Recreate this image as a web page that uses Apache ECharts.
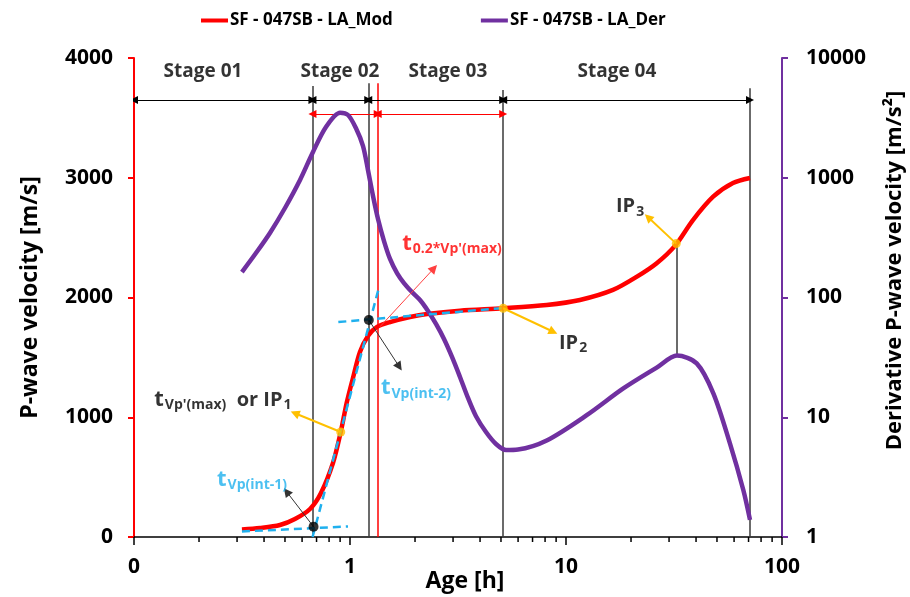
<!DOCTYPE html>
<html>
<head>
<meta charset="utf-8">
<script src="https://cdn.jsdelivr.net/npm/echarts@6/dist/echarts.min.js"></script>
<style>
html, body { margin: 0; padding: 0; background: #fff; }
#chart { width: 910px; height: 597px; }
</style>
</head>
<body>
<div id="chart"></div>
<script>
// Modelled P-wave velocity (left axis) against age in hours
const modAge = [0.316, 0.383, 0.474, 0.556, 0.653, 0.734, 0.834, 0.906, 0.965, 1.032, 1.112, 1.211, 1.334, 1.532, 1.896, 2.273, 3.23, 5.12, 8.14, 11.6, 16.5, 21.3, 26.3, 32.0, 38.7, 48.0, 59.3, 71.1];
const modVel = [63, 75, 100, 150, 234, 367, 618, 877, 1119, 1328, 1545, 1679, 1754, 1795, 1837, 1862, 1890, 1910, 1937, 1979, 2063, 2174, 2286, 2433, 2647, 2842, 2956, 2998];

// Derivative of the P-wave velocity (right axis, logarithmic)
const derAge = [0.316, 0.367, 0.426, 0.5, 0.587, 0.674, 0.774, 0.899, 0.979, 1.066, 1.149, 1.211, 1.278, 1.348, 1.437, 1.532, 1.651, 1.778, 1.936, 2.109, 2.297, 2.501, 2.724, 2.966, 3.23, 3.518, 3.831, 4.262, 4.741, 5.275, 5.995, 8.14, 12.47, 18.42, 26.3, 32.65, 40.28, 48.1, 57.4, 66.2, 71.1];
const derVal = [163, 235, 346, 559, 958, 1641, 2653, 3494, 3342, 2591, 1841, 1161, 704, 452, 296, 210, 160, 132, 111, 95.3, 77.2, 60.1, 45.0, 31.9, 21.7, 14.5, 10.2, 7.53, 5.98, 5.33, 5.38, 6.4, 10.4, 17.4, 26.0, 32.8, 28.2, 15.85, 6.06, 2.47, 1.39];

// Axis tick labels
const xTickLabels = ['0', '1', '10', '100'];
const xMinorTicks = [0.2, 0.3, 0.4, 0.5, 0.6, 0.7, 0.8, 0.9, 2, 3, 4, 5, 6, 7, 8, 9, 20, 30, 40, 50, 60, 70, 80, 90];
const yLeftTickLabels = ['0', '1000', '2000', '3000', '4000'];
const yRightTickLabels = ['1', '10', '100', '1000', '10000'];

// Stage boundaries [h] and the top of each boundary line [m/s]
const stageBounds = [0.1, 0.670, 1.215, 5.12, 71.1];
const boundTop = [3766, 3789, 3733, 3747];
const stageNames = ['Stage 01', 'Stage 02', 'Stage 03', 'Stage 04'];
const stageLabelAge = [0.2087, 0.899, 2.84, 17.2];
const stageLabelVel = 3883;
const stageArrowVel = 3649;

// t(0.2*Vp'(max)) marker
const t02Age = 1.343;
const t02Top = 3789;
const t02ArrowVel = 3532;

// Inflection points IP1..IP3 and where their pointers end
const ipAge = [0.906, 5.12, 32.4];
const ipVel = [877, 1910, 2450];
const ipPointerEnd = [[0.556, 1033], [8.73, 1714], [24.0, 2670]];
const ip3DropVel = 1520;

// Tangent intersections t_Vp(int-1), t_Vp(int-2) and their pointers
const intAge = [0.678, 1.222];
const intVel = [86, 1812];
const intPointerEnd = [[0.509, 378], [1.691, 1422]];
const t02Pointer = [[1.377, 1756], [2.448, 2244]];

// Tangent lines (dashed)
const tangentLow = [[0.316, 46], [0.979, 88]];
const tangentSteep = [[0.671, 0], [1.352, 2063]];
const tangentHigh = [[0.883, 1795], [5.11, 1912]];

// Annotation text anchors
const labelIP1 = [0.258, 1144];
const labelInt1 = [0.352, 476];
const labelInt2 = [2.02, 1244];
const labelT02 = [2.965, 2447];
const labelIP2 = [10.78, 1620];
const labelIP3 = [19.8, 2758];

const RED = '#FF0000', PURPLE = '#7030A0', BLUE = '#1FB0EE', YELLOW = '#FFC000';
const FONT = 'Open Sans';

const zip = (a, b) => a.map((v, i) => [v, b[i]]);

function linesSeries(coordsList, color, width, symbols, extra) {
  return Object.assign({
    type: 'lines',
    coordinateSystem: 'cartesian2d',
    xAxisIndex: 0,
    yAxisIndex: 0,
    silent: true,
    symbol: symbols || ['none', 'none'],
    symbolSize: 9,
    lineStyle: { color: color, width: width, opacity: 1, curveness: 0 },
    data: coordsList.map(c => ({ coords: c }))
  }, extra || {});
}

function textSeries(pos, formatter, color, rich) {
  return {
    type: 'scatter',
    xAxisIndex: 0,
    yAxisIndex: 0,
    silent: true,
    symbolSize: 1,
    itemStyle: { color: 'rgba(0,0,0,0)' },
    z: 10,
    data: [pos],
    label: {
      show: true,
      position: 'inside',
      formatter: formatter,
      color: color,
      fontFamily: FONT,
      fontWeight: 'bold',
      rich: rich
    }
  };
}

function subRich(color) {
  return {
    t: { fontSize: 22, fontWeight: 'bold', color: color, fontFamily: FONT },
    n: { fontSize: 20, fontWeight: 'bold', color: color, fontFamily: FONT },
    s: { fontSize: 14, fontWeight: 'bold', color: color, fontFamily: FONT, padding: [11, 0, 0, 1] }
  };
}

// Boundary lines, stage arrows and pointers
const boundaryLines = stageBounds.slice(1).map((x, i) => [[x, 0], [x, boundTop[i]]]);
boundaryLines.push([[ipAge[2], ipVel[2]], [ipAge[2], ip3DropVel]]);
const stageArrows = stageBounds.slice(0, -1).map((x, i) => [[x, stageArrowVel], [stageBounds[i + 1], stageArrowVel]]);
const t02Arrows = [[[stageBounds[1], t02ArrowVel], [t02Age, t02ArrowVel]], [[t02Age, t02ArrowVel], [stageBounds[3], t02ArrowVel]]];
const ipPointers = ipAge.map((x, i) => [[x, ipVel[i]], ipPointerEnd[i]]);
const intPointers = intAge.map((x, i) => [[x, intVel[i]], intPointerEnd[i]]);

const chart = echarts.init(document.getElementById('chart'));

chart.setOption({
  animation: false,
  textStyle: { fontFamily: FONT },
  grid: { left: 134, right: 128, top: 58, bottom: 60, outerBoundsMode: 'none', containLabel: false },
  legend: {
    data: ['SF - 047SB - LA_Mod', 'SF - 047SB - LA_Der'],
    top: 7,
    left: 196,
    itemGap: 88,
    itemWidth: 27,
    itemHeight: 4,
    icon: 'rect',
    textStyle: { fontSize: 17, fontWeight: 'bold', color: '#000', fontFamily: FONT, padding: [0, 0, 0, -3] }
  },
  xAxis: {
    type: 'log',
    logBase: 10,
    min: 0.1,
    max: 100,
    axisLine: { show: true, onZero: false, lineStyle: { color: '#000', width: 1.5 } },
    axisTick: { show: true, length: 8, lineStyle: { color: '#000', width: 1.5 } },
    splitLine: { show: false },
    minorTick: { show: false },
    axisLabel: {
      formatter: (v, idx) => xTickLabels[idx],
      fontSize: 21, fontWeight: 'bold', color: '#000', margin: 20, fontFamily: FONT
    },
    name: 'Age [h]',
    nameLocation: 'middle',
    nameGap: 33,
    nameMoveOverlap: false,
    nameTextStyle: { fontSize: 23, fontWeight: 'bold', color: '#000', fontFamily: FONT, padding: [0, 0, 0, 14] }
  },
  yAxis: [
    {
      type: 'value',
      position: 'left',
      min: 0,
      max: 4000,
      interval: 1000,
      axisLine: { show: true, lineStyle: { color: RED, width: 2 } },
      axisTick: { show: true, length: 6, lineStyle: { color: RED, width: 2 } },
      splitLine: { show: false },
      axisLabel: {
        formatter: (v, idx) => yLeftTickLabels[idx],
        fontSize: 21, fontWeight: 'bold', color: '#000', margin: 21, fontFamily: FONT
      },
      name: 'P-wave velocity [m/s]',
      nameLocation: 'middle',
      nameGap: 92,
      nameMoveOverlap: false,
      nameTextStyle: { fontSize: 23, fontWeight: 'bold', color: '#000', fontFamily: FONT }
    },
    {
      type: 'log',
      logBase: 10,
      position: 'right',
      min: 1,
      max: 10000,
      axisLine: { show: true, lineStyle: { color: PURPLE, width: 2 } },
      axisTick: { show: true, length: 6, lineStyle: { color: PURPLE, width: 2 } },
      splitLine: { show: false },
      axisLabel: {
        formatter: (v, idx) => yRightTickLabels[idx],
        fontSize: 21, fontWeight: 'bold', color: '#000', margin: 24, fontFamily: FONT
      },
      name: 'Derivative P-wave velocity [m/s²]',
      nameLocation: 'middle',
      nameGap: 102,
      nameMoveOverlap: false,
      nameTextStyle: { fontSize: 22, fontWeight: 'bold', color: '#000', fontFamily: FONT, padding: [0, 0, 0, 54] }
    }
  ],
  series: [
    // minor ticks of the logarithmic age axis
    {
      type: 'custom',
      xAxisIndex: 0,
      yAxisIndex: 0,
      silent: true,
      clip: false,
      data: xMinorTicks.map(v => [v, 0]),
      encode: { x: 0, y: 1 },
      renderItem: function (params, api) {
        const p = api.coord([api.value(0), 0]);
        return {
          type: 'line',
          shape: { x1: p[0], y1: p[1], x2: p[0], y2: p[1] + 5 },
          style: { stroke: '#000', lineWidth: 1.5 }
        };
      }
    },
    linesSeries(boundaryLines, '#3a3a3a', 1.5),
    linesSeries([[[t02Age, 0], [t02Age, t02Top]]], RED, 1.5),
    linesSeries(stageArrows, '#000', 1, ['triangle', 'triangle'], { symbolSize: 8 }),
    linesSeries(t02Arrows, RED, 1, ['triangle', 'triangle'], { symbolSize: 8 }),
    {
      name: 'SF - 047SB - LA_Mod',
      type: 'line',
      xAxisIndex: 0,
      yAxisIndex: 0,
      data: zip(modAge, modVel),
      smooth: 0.3,
      showSymbol: false,
      symbol: 'none',
      color: RED,
      lineStyle: { color: RED, width: 4.5 },
      z: 4
    },
    {
      name: 'SF - 047SB - LA_Der',
      type: 'line',
      xAxisIndex: 0,
      yAxisIndex: 1,
      data: zip(derAge, derVal),
      smooth: 0.3,
      showSymbol: false,
      symbol: 'none',
      color: PURPLE,
      lineStyle: { color: PURPLE, width: 4.5 },
      z: 5
    },
    linesSeries([tangentLow, tangentSteep, tangentHigh], BLUE, 2.5, null, {
      lineStyle: { color: BLUE, width: 2.5, opacity: 1, curveness: 0, type: [8, 5] },
      z: 6
    }),
    linesSeries(ipPointers, YELLOW, 2, ['none', 'triangle'], { symbolSize: 9, z: 7 }),
    linesSeries(intPointers, '#333', 1, ['none', 'triangle'], { symbolSize: 9, z: 7 }),
    linesSeries([t02Pointer], '#FF4040', 1, ['none', 'triangle'], { symbolSize: 9, z: 7 }),
    {
      type: 'scatter',
      xAxisIndex: 0,
      yAxisIndex: 0,
      silent: true,
      symbolSize: 9,
      itemStyle: { color: YELLOW },
      data: zip(ipAge, ipVel),
      z: 8
    },
    {
      type: 'scatter',
      xAxisIndex: 0,
      yAxisIndex: 0,
      silent: true,
      symbolSize: 10,
      itemStyle: { color: '#000' },
      data: zip(intAge, intVel),
      z: 8
    },
    {
      type: 'scatter',
      xAxisIndex: 0,
      yAxisIndex: 0,
      silent: true,
      symbolSize: 1,
      itemStyle: { color: 'rgba(0,0,0,0)' },
      data: stageLabelAge.map((x, i) => ({ value: [x, stageLabelVel], name: stageNames[i] })),
      label: {
        show: true, position: 'inside', formatter: p => p.name,
        fontSize: 19, fontWeight: 'bold', color: '#000', fontFamily: FONT
      },
      z: 10
    },
    textSeries(labelIP1, "{t|t}{s|Vp'(max)}{n|  or IP}{s|1}", '#000', subRich('#000')),
    textSeries(labelInt1, '{t|t}{s|Vp(int-1)}', BLUE, subRich(BLUE)),
    textSeries(labelInt2, '{t|t}{s|Vp(int-2)}', BLUE, subRich(BLUE)),
    textSeries(labelT02, "{t|t}{s|0.2*Vp'(max)}", RED, subRich(RED)),
    textSeries(labelIP2, '{n|IP}{s|2}', '#000', subRich('#000')),
    textSeries(labelIP3, '{n|IP}{s|3}', '#000', subRich('#000'))
  ]
});
</script>
</body>
</html>
